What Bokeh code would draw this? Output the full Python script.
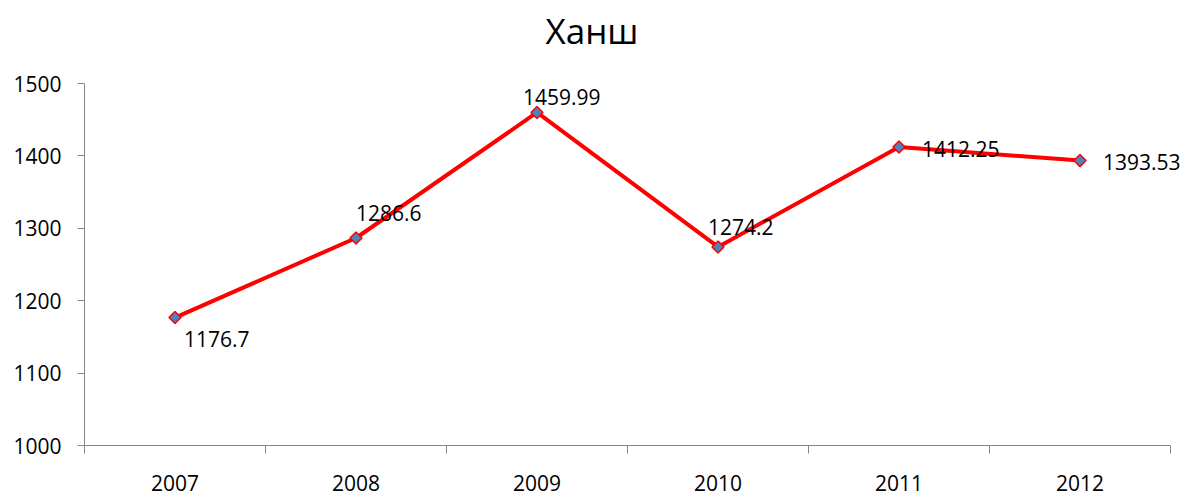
from bokeh.plotting import figure
from bokeh.models import FixedTicker, Range1d, ColumnDataSource, LabelSet, Title
from bokeh.embed import file_html
from bokeh.resources import INLINE
from bokeh.core.properties import value
import math

title_text = "Ханш"
years = ["2007", "2008", "2009", "2010", "2011", "2012"]
rates = [1176.7, 1286.6, 1459.99, 1274.2, 1412.25, 1393.53]
rate_labels = ["1176.7", "1286.6", "1459.99", "1274.2", "1412.25", "1393.53"]
y_ticks = [1000, 1100, 1200, 1300, 1400, 1500]

# label placement (screen px relative to point; positive dy = downwards)
label_dx = [9, 0, -14, -10, 23, 23]
label_dy = [21, -25, -15, -20, 2, 1]

FONT = "Open Sans"
AXIS_COLOR = "#868686"
Y0 = 1000

W, H = 1185, 496
LEFT, RIGHT_AXIS_END, TOP, BOTTOM = 84, 1170, 83, 445
n = len(years)
# extend frame to the right edge so that the last data label is not clipped
x_end = -0.5 + n * (W - LEFT) / (RIGHT_AXIS_END - LEFT)

xs = list(range(n))
src = ColumnDataSource(dict(x=xs, y=rates, lab=rate_labels,
                            dx=label_dx, dy=[-d for d in label_dy]))

p = figure(width=W, height=H, output_backend="svg", toolbar_location=None,
           x_range=Range1d(-0.5, x_end), y_range=Range1d(Y0, 1500),
           min_border_left=LEFT, min_border_right=0, min_border_top=TOP,
           min_border_bottom=H - BOTTOM)

# blank spacer between the title and the plot area
p.add_layout(Title(text=" ", text_font_size="1px", standoff=27), "above")

p.title.text = title_text
p.title.text_font = FONT
p.title.text_font_size = "35px"
p.title.text_font_style = "normal"
p.title.align = "left"
p.title.offset = 461
p.title.standoff = 0
p.title.text_color = "black"

p.xgrid.visible = False
p.ygrid.visible = False
p.outline_line_color = None

xa = p.xaxis[0]
xa.ticker = FixedTicker(ticks=xs, minor_ticks=[i - 0.5 for i in range(n + 1)])
xa.major_label_overrides = {i: y for i, y in enumerate(years)}
xa.bounds = (-0.5, n - 0.5)
xa.major_tick_out = 0
xa.major_tick_in = 0
xa.minor_tick_out = 8
xa.minor_tick_in = 0
xa.minor_tick_line_color = AXIS_COLOR
xa.axis_line_color = AXIS_COLOR
xa.major_label_text_font = FONT
xa.major_label_text_font_size = "21px"
xa.major_label_text_color = "black"
xa.major_label_standoff = 21

ya = p.yaxis[0]
ya.ticker = FixedTicker(ticks=y_ticks, minor_ticks=[])
ya.major_tick_out = 7
ya.major_tick_in = 0
ya.major_tick_line_color = AXIS_COLOR
ya.axis_line_color = AXIS_COLOR
ya.major_label_text_font = FONT
ya.major_label_text_font_size = "21px"
ya.major_label_text_color = "black"
ya.major_label_standoff = 16

p.line("x", "y", source=src, line_color="#FF0000", line_width=4)
p.scatter("x", "y", source=src, marker="square", size=8.5, angle=math.pi / 4,
          fill_color="#4F81BD", line_color="#FF0000", line_width=1.5)

p.add_layout(LabelSet(x="x", y="y", text="lab", source=src, x_offset="dx", y_offset="dy",
                      text_font=value(FONT), text_font_size=value("21px"),
                      text_color="black", text_align="left", text_baseline="middle"))

open("out.html", "w").write(file_html(p, INLINE))
